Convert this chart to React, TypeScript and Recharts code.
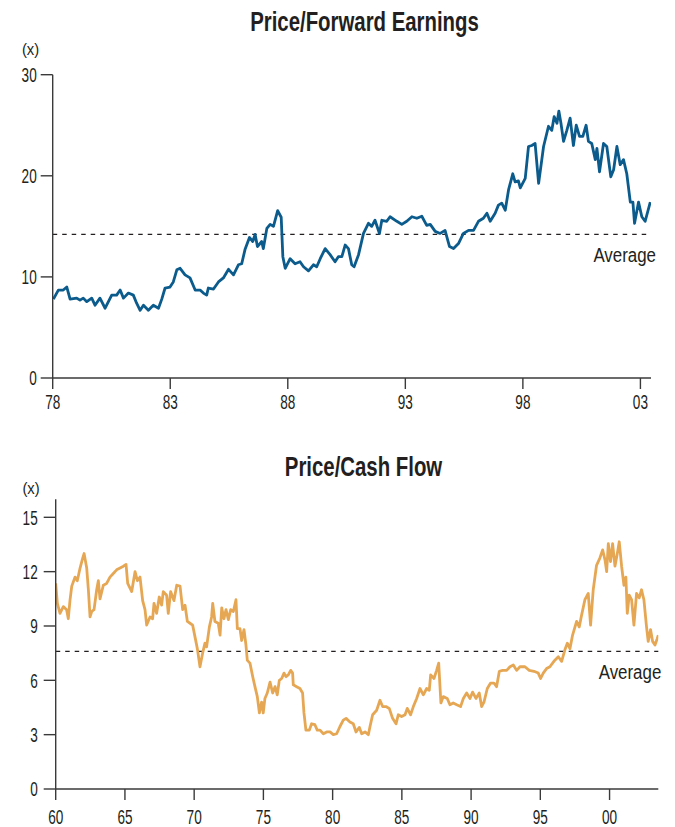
import { LineChart, Line, XAxis, YAxis, ReferenceLine } from "recharts"

// Price / forward earnings (decimal year, multiple)
const peYears = [
  1978.03, 1978.24, 1978.45, 1978.6, 1978.74, 1979.02, 1979.16, 1979.3, 1979.45, 1979.66,
  1979.8, 1980.01, 1980.23, 1980.51, 1980.72, 1980.87, 1981.01, 1981.22, 1981.43, 1981.57,
  1981.72, 1981.86, 1982.07, 1982.28, 1982.5, 1982.64, 1982.78, 1982.99, 1983.13, 1983.28,
  1983.42, 1983.63, 1983.84, 1984.06, 1984.27, 1984.41, 1984.55, 1984.62, 1984.84, 1985.05,
  1985.26, 1985.48, 1985.69, 1985.9, 1986.04, 1986.18, 1986.37, 1986.51, 1986.61, 1986.71,
  1986.89, 1986.96, 1987.11, 1987.25, 1987.39, 1987.57, 1987.72, 1987.79, 1987.89, 1988.1,
  1988.31, 1988.52, 1988.67, 1988.88, 1989.09, 1989.23, 1989.38, 1989.59, 1989.8, 1990.01,
  1990.15, 1990.3, 1990.44, 1990.58, 1990.72, 1990.82, 1991.01, 1991.22, 1991.43, 1991.57,
  1991.71, 1991.9, 1992.0, 1992.21, 1992.35, 1992.64, 1992.85, 1993.06, 1993.28, 1993.49,
  1993.7, 1993.91, 1994.06, 1994.27, 1994.48, 1994.69, 1994.88, 1995.05, 1995.26, 1995.47,
  1995.69, 1995.9, 1996.11, 1996.32, 1996.47, 1996.61, 1996.82, 1996.96, 1997.1, 1997.25,
  1997.39, 1997.57, 1997.67, 1997.81, 1997.89, 1998.1, 1998.24, 1998.38, 1998.52, 1998.67,
  1998.88, 1999.09, 1999.23, 1999.33, 1999.45, 1999.53, 1999.62, 1999.73, 1999.87, 2000.01,
  2000.15, 2000.27, 2000.41, 2000.55, 2000.69, 2000.79, 2000.93, 2001.08, 2001.15, 2001.26,
  2001.43, 2001.57, 2001.74, 2001.86, 2002.0, 2002.14, 2002.28, 2002.42, 2002.57, 2002.68,
  2002.75, 2002.92, 2003.06, 2003.2, 2003.42,
]
const peValues = [
  7.8, 8.7, 8.7, 9.0, 7.8, 7.9, 7.7, 7.9, 7.55, 7.9,
  7.2, 7.9, 6.9, 8.2, 8.2, 8.7, 7.9, 8.4, 8.2, 7.4,
  6.7, 7.2, 6.7, 7.2, 6.9, 7.8, 8.9, 9.0, 9.5, 10.7,
  10.85, 10.2, 9.9, 8.7, 8.7, 8.4, 8.2, 8.9, 8.8, 9.5,
  9.9, 10.75, 10.2, 11.2, 11.3, 12.7, 13.9, 13.5, 14.2, 13.0,
  13.5, 12.8, 14.8, 15.2, 15.0, 16.55, 15.9, 12.0, 10.85, 11.8,
  11.3, 11.5, 11.0, 10.6, 11.2, 11.0, 11.8, 12.8, 12.2, 11.5,
  12.0, 12.0, 13.15, 12.8, 11.2, 11.0, 12.2, 14.3, 15.3, 15.0,
  15.6, 14.3, 15.6, 15.5, 15.95, 15.5, 15.2, 15.5, 15.95, 15.8,
  16.0, 15.1, 15.2, 14.5, 14.3, 14.6, 13.0, 12.8, 13.3, 14.3,
  14.6, 14.6, 15.5, 15.8, 16.3, 15.5, 16.3, 17.1, 17.3, 16.6,
  18.6, 20.2, 19.4, 19.5, 18.8, 19.75, 22.9, 23.0, 23.2, 19.25,
  22.9, 24.9, 24.5, 25.85, 25.2, 26.4, 25.2, 23.4, 24.5, 25.7,
  23.0, 25.0, 23.9, 23.9, 25.0, 23.4, 23.2, 21.6, 22.7, 20.4,
  23.2, 22.9, 19.9, 20.6, 22.9, 21.1, 21.6, 20.2, 17.4, 17.4,
  15.3, 17.4, 15.95, 15.5, 17.4,
]
const peAverage = 14.2
const peXTicks = [1978, 1983, 1988, 1993, 1998, 2003]
const peYTicks = [0, 10, 20, 30]

// Price / cash flow
const pcfYears = [
  1960.0, 1960.12, 1960.31, 1960.55, 1960.79, 1960.91, 1961.03, 1961.16, 1961.4, 1961.56,
  1961.76, 1961.95, 1962.05, 1962.24, 1962.36, 1962.48, 1962.6, 1962.77, 1962.96, 1963.08,
  1963.2, 1963.44, 1963.68, 1963.92, 1964.16, 1964.4, 1964.65, 1964.89, 1965.08, 1965.2,
  1965.49, 1965.73, 1965.9, 1966.09, 1966.28, 1966.45, 1966.57, 1966.81, 1967.0, 1967.1,
  1967.29, 1967.48, 1967.65, 1967.77, 1968.01, 1968.13, 1968.3, 1968.54, 1968.74, 1968.98,
  1969.17, 1969.34, 1969.51, 1969.7, 1969.89, 1970.06, 1970.23, 1970.42, 1970.61, 1970.78,
  1970.9, 1971.1, 1971.26, 1971.34, 1971.5, 1971.74, 1971.87, 1971.99, 1972.15, 1972.3,
  1972.47, 1972.64, 1972.83, 1973.02, 1973.12, 1973.31, 1973.43, 1973.6, 1973.74, 1973.84,
  1974.03, 1974.23, 1974.39, 1974.56, 1974.71, 1974.87, 1974.99, 1975.11, 1975.28, 1975.48,
  1975.67, 1975.84, 1976.0, 1976.15, 1976.32, 1976.49, 1976.63, 1976.8, 1976.97, 1977.11,
  1977.16, 1977.4, 1977.64, 1977.83, 1977.93, 1978.07, 1978.32, 1978.48, 1978.72, 1978.89,
  1979.09, 1979.33, 1979.57, 1979.81, 1980.05, 1980.29, 1980.53, 1980.77, 1980.97, 1981.25,
  1981.49, 1981.69, 1981.93, 1982.1, 1982.34, 1982.58, 1982.7, 1982.89, 1983.18, 1983.42,
  1983.61, 1983.85, 1984.09, 1984.33, 1984.58, 1984.74, 1984.98, 1985.23, 1985.39, 1985.63,
  1985.83, 1986.07, 1986.31, 1986.55, 1986.79, 1986.98, 1987.08, 1987.32, 1987.51, 1987.66,
  1987.82, 1987.99, 1988.28, 1988.47, 1988.71, 1988.96, 1989.24, 1989.44, 1989.68, 1989.92,
  1990.11, 1990.35, 1990.59, 1990.76, 1990.93, 1991.17, 1991.41, 1991.65, 1991.84, 1992.04,
  1992.28, 1992.57, 1992.81, 1993.05, 1993.29, 1993.53, 1993.89, 1994.2, 1994.54, 1994.85,
  1995.02, 1995.21, 1995.45, 1995.69, 1995.98, 1996.3, 1996.54, 1996.78, 1996.95, 1997.14,
  1997.33, 1997.62, 1997.81, 1997.98, 1998.22, 1998.46, 1998.63, 1998.82, 1999.06, 1999.3,
  1999.5, 1999.67, 1999.79, 1999.91, 2000.07, 2000.22, 2000.39, 2000.56, 2000.7, 2000.87,
  2001.04, 2001.18, 2001.28, 2001.42, 2001.59, 2001.76, 2001.95, 2002.14, 2002.31, 2002.48,
  2002.67, 2002.79, 2002.96, 2003.11, 2003.28, 2003.44, 2003.52,
]
const pcfValues = [
  11.35, 10.25, 9.7, 10.07, 9.9, 9.4, 10.4, 11.2, 11.7, 11.5,
  12.2, 12.75, 13.0, 12.2, 11.0, 9.5, 9.8, 9.9, 11.0, 11.5,
  10.5, 11.25, 11.35, 11.7, 11.9, 12.1, 12.2, 12.3, 12.4, 11.35,
  10.9, 12.0, 11.5, 11.7, 10.4, 9.9, 9.05, 9.5, 9.4, 10.25,
  9.7, 10.6, 10.15, 10.9, 10.7, 9.7, 10.9, 10.4, 11.25, 11.2,
  9.9, 10.15, 9.25, 9.15, 9.05, 8.4, 7.75, 6.75, 7.5, 8.05,
  7.85, 8.95, 9.5, 10.25, 9.25, 9.15, 8.5, 10.0, 9.4, 9.9,
  9.35, 9.9, 9.8, 10.45, 8.85, 8.85, 8.2, 8.8, 7.95, 7.1,
  6.95, 6.2, 5.65, 5.1, 4.2, 4.8, 4.2, 5.0, 5.3, 5.9,
  5.3, 5.65, 5.2, 6.0, 6.1, 6.4, 6.2, 6.3, 6.55, 6.4,
  5.75, 5.65, 5.55, 5.3, 4.2, 3.25, 3.25, 3.6, 3.55, 3.25,
  3.25, 3.05, 3.15, 3.15, 3.0, 3.05, 3.45, 3.8, 3.9, 3.7,
  3.6, 3.15, 3.4, 3.05, 3.15, 3.0, 3.45, 4.1, 4.35, 4.9,
  4.55, 4.55, 4.45, 3.9, 3.6, 4.1, 4.0, 4.1, 4.45, 4.1,
  4.55, 5.0, 5.55, 5.2, 5.55, 5.45, 6.3, 6.1, 6.55, 6.95,
  4.75, 5.1, 5.0, 4.65, 4.75, 4.65, 4.55, 5.0, 5.3, 5.0,
  5.35, 5.0, 5.3, 4.55, 4.8, 5.55, 5.85, 5.85, 5.65, 6.5,
  6.55, 6.55, 6.75, 6.85, 6.55, 6.75, 6.75, 6.55, 6.5, 6.4,
  6.1, 6.4, 6.65, 6.75, 7.05, 7.3, 7.05, 7.7, 8.05, 7.75,
  8.5, 9.25, 8.95, 9.6, 10.45, 10.8, 9.05, 11.0, 12.35, 12.75,
  13.2, 12.65, 12.0, 13.55, 12.55, 13.55, 12.3, 13.0, 13.65, 12.3,
  11.25, 11.7, 9.7, 10.7, 10.45, 9.05, 10.8, 10.55, 11.0, 10.45,
  8.95, 8.15, 8.8, 8.15, 7.95, 8.3, 8.5,
]
const pcfAverage = 7.6
const pcfXTicks = [1960, 1965, 1970, 1975, 1980, 1985, 1990, 1995, 2000]
const pcfYTicks = [0, 3, 6, 9, 12, 15]

const FONT = "'Liberation Sans', Arial, sans-serif"
const INK = "#231f20"
const AXIS = "#3a3a3a"

const twoDigit = (y: number) => String(Math.round(y) % 100).padStart(2, "0")

// the original uses a condensed face, so squeeze a regular one horizontally
// eslint-disable-next-line @typescript-eslint/no-explicit-any
function Narrow({ x, y, anchor = "start", size, sx, weight = "normal", children }: any) {
  return (
    <text
      transform={`translate(${x} ${y}) scale(${sx} 1)`}
      textAnchor={anchor}
      fontSize={size}
      fontWeight={weight}
      fontFamily={FONT}
      fill={INK}
    >
      {children}
    </text>
  )
}

// eslint-disable-next-line @typescript-eslint/no-explicit-any
function XTick({ x, y, payload }: any) {
  return (
    <Narrow x={x} y={y + 14.3} anchor="middle" size={20} sx={0.68}>
      {twoDigit(payload.value)}
    </Narrow>
  )
}

// eslint-disable-next-line @typescript-eslint/no-explicit-any
function YTick({ x, y, payload }: any) {
  return (
    <Narrow x={x} y={y + 7.2} anchor="end" size={20} sx={0.68}>
      {payload.value}
    </Narrow>
  )
}

// eslint-disable-next-line @typescript-eslint/no-explicit-any
function AverageLabel({ viewBox, dx }: any) {
  if (!viewBox) return null
  return (
    <Narrow x={viewBox.x + viewBox.width + dx} y={viewBox.y + 27.4} anchor="end" size={21} sx={0.805}>
      Average
    </Narrow>
  )
}

interface PanelProps {
  top: number
  height: number
  margin: { top: number; right: number; bottom: number; left: number }
  years: number[]
  values: number[]
  color: string
  xDomain: [number, number]
  xTicks: number[]
  xTickMargin: number
  yDomain: [number, number]
  yTicks: number[]
  yTickMargin: number
  average: number
  labelDx: number
}

function Panel(p: PanelProps) {
  const data = p.years.map((year, i) => ({ year, value: p.values[i] }))
  return (
    <div style={{ position: "absolute", top: p.top, left: 0 }}>
      <LineChart width={675} height={p.height} data={data} margin={p.margin}>
        <XAxis
          dataKey="year"
          type="number"
          domain={p.xDomain}
          ticks={p.xTicks}
          allowDataOverflow
          height={30}
          tick={<XTick />}
          tickSize={11}
          tickMargin={p.xTickMargin}
          stroke={AXIS}
          strokeWidth={1.4}
        />
        <YAxis
          type="number"
          domain={p.yDomain}
          ticks={p.yTicks}
          width={40}
          tick={<YTick />}
          tickSize={12}
          tickMargin={p.yTickMargin}
          stroke={AXIS}
          strokeWidth={1.4}
        />
        <ReferenceLine
          y={p.average}
          stroke={INK}
          strokeWidth={1.2}
          strokeDasharray="4.5 5"
          label={<AverageLabel dx={p.labelDx} />}
        />
        <Line
          type="linear"
          dataKey="value"
          stroke={p.color}
          strokeWidth={2.8}
          strokeLinejoin="round"
          dot={false}
          activeDot={false}
          isAnimationActive={false}
        />
      </LineChart>
    </div>
  )
}

export default function App() {
  return (
    <div style={{ position: "absolute", top: 0, left: 0, width: 675, height: 827, background: "#fff" }}>
      <Panel
        top={0}
        height={420}
        margin={{ top: 74.7, right: 24, bottom: 12, left: 12.7 }}
        years={peYears}
        values={peValues}
        color="#0b5b8c"
        xDomain={[1978, 2003.45]}
        xTicks={peXTicks}
        xTickMargin={6}
        yDomain={[0, 30]}
        yTicks={peYTicks}
        yTickMargin={4}
        average={peAverage}
        labelDx={5}
      />
      <Panel
        top={420}
        height={407}
        margin={{ top: 79.2, right: 16.7, bottom: 8, left: 15.7 }}
        years={pcfYears}
        values={pcfValues}
        color="#e6a754"
        xDomain={[1960, 2003.52]}
        xTicks={pcfXTicks}
        xTickMargin={9.5}
        yDomain={[0, 16]}
        yTicks={pcfYTicks}
        yTickMargin={6}
        average={pcfAverage}
        labelDx={3}
      />
      <svg
        width={675}
        height={827}
        style={{ position: "absolute", top: 0, left: 0, pointerEvents: "none" }}
      >
        <Narrow x={364.5} y={31} anchor="middle" size={27} sx={0.755} weight="bold">
          Price/Forward Earnings
        </Narrow>
        <Narrow x={30.5} y={54.5} anchor="middle" size={17} sx={0.87}>
          (x)
        </Narrow>
        <Narrow x={363.5} y={476} anchor="middle" size={27} sx={0.755} weight="bold">
          Price/Cash Flow
        </Narrow>
        <Narrow x={31} y={494} anchor="middle" size={17} sx={0.87}>
          (x)
        </Narrow>
      </svg>
    </div>
  )
}
